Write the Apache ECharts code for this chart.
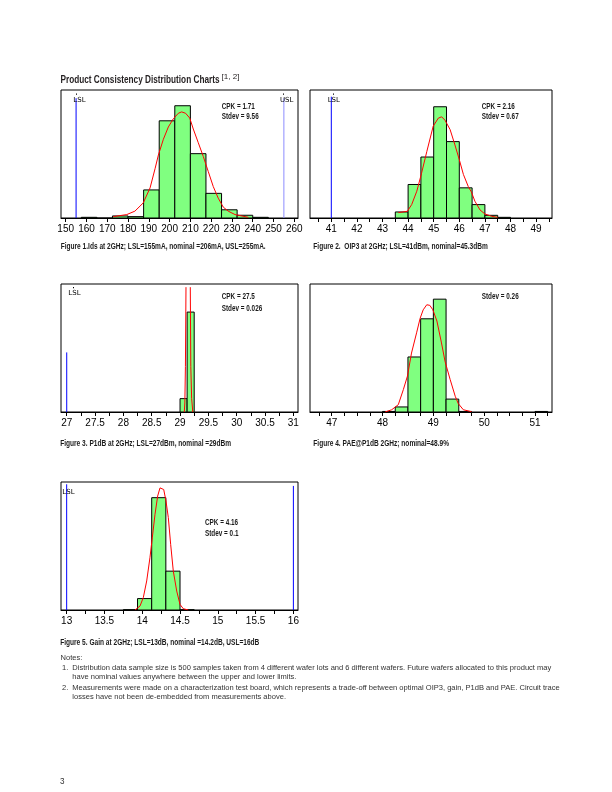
<!DOCTYPE html>
<html><head><meta charset="utf-8">
<script src="https://cdn.jsdelivr.net/npm/echarts@6/dist/echarts.min.js"></script>
<style>html,body{margin:0;padding:0;background:#fff}#c{width:612px;height:792px}</style>
</head><body><div id="c"></div><script>
// ---------- DATA ----------
// Figure 1: Ids (mA)
var idsBinStart = [157.5, 165, 172.5, 180, 187.5, 195, 202.5, 210, 217.5, 225, 232.5, 240];
var idsBinWidth = 7.5;
var idsCounts   = [1, 0, 3, 2, 41, 142, 164, 94, 36, 12, 4, 1];
var idsFitX = [172.9, 179.4, 183.3, 187.3, 190.6, 193.0, 194.6, 197.0, 199.4, 201.8, 204.2, 205.8, 207.7, 209.7, 211.4, 213.8, 216.2, 218.6, 221.0, 223.4, 225.8, 228.2, 231.5, 237.9];
var idsFitY = [2, 5, 10, 22, 44, 72, 92, 115, 133, 145, 153, 155, 153, 146, 130, 110, 90, 68, 46, 29, 16, 10, 5, 1];
var idsTicks = [150, 160, 170, 180, 190, 200, 210, 220, 230, 240, 250, 260];
var idsLabels = [150, 160, 170, 180, 190, 200, 210, 220, 230, 240, 250, 260];
var idsLSL = 155, idsUSL = 255;

// Figure 2: OIP3 (dBm)
var oipBinStart = [43.5, 44, 44.5, 45, 45.5, 46, 46.5, 47, 47.5];
var oipBinWidth = 0.5;
var oipCounts   = [9, 50, 91, 166, 114, 45, 20, 4, 1];
var oipFitX = [43.62, 43.97, 44.14, 44.34, 44.52, 44.73, 44.98, 45.18, 45.31, 45.44, 45.64, 45.83, 46.0, 46.16, 46.35, 46.47, 46.61, 46.81, 47.0, 47.27, 47.5];
var oipFitY = [8, 10, 20, 40, 66, 99, 137, 149, 151, 146, 132, 109, 87, 65, 47, 39, 25, 12, 6, 2.5, 1];
var oipTicks = [40.5, 41, 41.5, 42, 42.5, 43, 43.5, 44, 44.5, 45, 45.5, 46, 46.5, 47, 47.5, 48, 48.5, 49, 49.5];
var oipLabels = [41, 42, 43, 44, 45, 46, 47, 48, 49];
var oipLSL = 41;

// Figure 3: P1dB (dBm)
var p1BinStart = [29.0, 29.125];
var p1BinWidth = 0.125;
var p1Counts   = [59, 441];
var p1FitX = [29.075, 29.085, 29.095, 29.105, 29.143, 29.181, 29.19, 29.205, 29.225];
var p1FitY = [0, 40, 200, 551, '-', 551, 200, 60, 0];
var p1Ticks = [27, 27.25, 27.5, 27.75, 28, 28.25, 28.5, 28.75, 29, 29.25, 29.5, 29.75, 30, 30.25, 30.5, 30.75, 31];
var p1Labels = [27, 27.5, 28, 28.5, 29, 29.5, 30, 30.5, 31];
var p1LSL = 27;

// Figure 4: PAE@P1dB (%)
var paeBinStart = [48.0, 48.25, 48.5, 48.75, 49.0, 49.25, 49.5, 51.0];
var paeBinWidth = 0.25;
var paeCounts   = [1, 9, 98, 166, 201, 23, 1, 1];
var paeFitX = [48.05, 48.18, 48.31, 48.41, 48.49, 48.57, 48.67, 48.74, 48.80, 48.87, 48.93, 48.99, 49.07, 49.16, 49.23, 49.33, 49.43, 49.49, 49.59, 49.75];
var paeFitY = [0, 4, 13, 40, 64, 105, 141, 167, 182, 191, 190, 182, 162, 123, 90, 58, 28, 15, 4, 0.6];
var paeTicks = [46.75, 47, 47.25, 47.5, 47.75, 48, 48.25, 48.5, 48.75, 49, 49.25, 49.5, 49.75, 50, 50.25, 50.5, 50.75, 51, 51.25];
var paeLabels = [47, 48, 49, 50, 51];

// Figure 5: Gain (dB)
var gainBinStart = [13.75, 13.9375, 14.125, 14.3125, 14.5];
var gainBinWidth = 0.1875;
var gainCounts   = [1, 35, 344, 119, 1];
var gainFitX = [13.904, 13.970, 14.014, 14.059, 14.102, 14.133, 14.169, 14.204, 14.235, 14.257, 14.284, 14.314, 14.345, 14.376, 14.411, 14.456, 14.500, 14.543, 14.609];
var gainFitY = [0, 12, 38, 89, 160, 221, 293, 349, 374, 379, 369, 334, 283, 201, 119, 58, 17, 4, 0];
var gainTicks = [13, 13.25, 13.5, 13.75, 14, 14.25, 14.5, 14.75, 15, 15.25, 15.5, 15.75, 16];
var gainLabels = [13, 13.5, 14, 14.5, 15, 15.5, 16];
var gainLSL = 13, gainUSL = 16;

// ---------- LAYOUT ----------
var LABEL_FONT = '"Liberation Sans", Arial, sans-serif';
var COND_FONT = '"Liberation Sans Narrow", "Liberation Sans", sans-serif';

var charts = [
  {grid:{left:61, top:90, width:237, height:128}, min:147.74, max:261.79, ymax:187,
   start:idsBinStart, width:idsBinWidth, counts:idsCounts, fx:idsFitX, fy:idsFitY, ticks:idsTicks, labels:idsLabels,
   spec:[{x:idsLSL, h:175, color:'#0000ff'}, {x:idsUSL, h:175, color:'#8c8cff'}]},
  {grid:{left:310, top:90, width:242, height:128}, min:40.168, max:49.621, ymax:191,
   start:oipBinStart, width:oipBinWidth, counts:oipCounts, fx:oipFitX, fy:oipFitY, ticks:oipTicks, labels:oipLabels,
   spec:[{x:oipLSL, h:181, color:'#0000ff'}]},
  {grid:{left:61, top:284, width:237, height:128}, min:26.899, max:31.082, ymax:565,
   start:p1BinStart, width:p1BinWidth, counts:p1Counts, fx:p1FitX, fy:p1FitY, ticks:p1Ticks, labels:p1Labels,
   spec:[{x:p1LSL, h:263, color:'#0000ff'}]},
  {grid:{left:310, top:284, width:242, height:128}, min:46.573, max:51.334, ymax:228,
   start:paeBinStart, width:paeBinWidth, counts:paeCounts, fx:paeFitX, fy:paeFitY, ticks:paeTicks, labels:paeLabels,
   spec:[]},
  {grid:{left:61, top:482, width:237, height:128}, min:12.925, max:16.061, ymax:392,
   start:gainBinStart, width:gainBinWidth, counts:gainCounts, fx:gainFitX, fy:gainFitY, ticks:gainTicks, labels:gainLabels,
   spec:[{x:gainLSL, h:385, color:'#0000ff'}, {x:gainUSL, h:380, color:'#0000ff'}]}
];

var grids = [], xAxes = [], yAxes = [], series = [];
charts.forEach(function(c, i){
  grids.push({left:c.grid.left, top:c.grid.top, width:c.grid.width, height:c.grid.height,
    show:true, borderColor:'#000', borderWidth:1, backgroundColor:'transparent', containLabel:false});
  xAxes.push({type:'value', gridIndex:i, min:c.min, max:c.max,
    axisLine:{show:true, onZero:false, lineStyle:{color:'#000', width:1}},
    axisTick:{show:true, length:4, inside:false, customValues:c.ticks, lineStyle:{color:'#000', width:1}},
    axisLabel:{show:true, customValues:c.labels, margin:6, color:'#000', fontFamily:LABEL_FONT, fontSize:10,
      formatter:function(v){return String(v);}},
    splitLine:{show:false}});
  yAxes.push({type:'value', gridIndex:i, min:0, max:c.ymax, show:false, splitLine:{show:false}});
  var barData = c.start.map(function(s, k){ return [s, c.counts[k]]; });
  series.push({type:'custom', xAxisIndex:i, yAxisIndex:i, data:barData, clip:true, z:2,
    renderItem:(function(w){ return function(params, api){
      var x0 = api.value(0), v = api.value(1);
      var p0 = api.coord([x0, v]), p1 = api.coord([x0 + w, 0]);
      return {type:'rect', shape:{x:p0[0], y:p0[1], width:p1[0]-p0[0], height:Math.max(p1[1]-p0[1], 0.5)},
        style:{fill:'#80ff80', stroke:'#000', lineWidth:1}};
    };})(c.width)});
  series.push({type:'line', xAxisIndex:i, yAxisIndex:i, data:c.fx.map(function(x, k){ return [x, c.fy[k]]; }),
    showSymbol:false, symbol:'none', clip:true, z:4, connectNulls:false,
    lineStyle:{color:'#ff0000', width:1}, silent:true, animation:false});
  c.spec.forEach(function(s){
    series.push({type:'line', xAxisIndex:i, yAxisIndex:i, data:[[s.x, 0], [s.x, s.h]],
      showSymbol:false, symbol:'none', z:5, lineStyle:{color:s.color, width:1}, silent:true, animation:false});
  });
});

// ---------- TEXT ----------
var ctx = document.createElement('canvas').getContext('2d');
function widthOf(text, font){ ctx.font = font; return ctx.measureText(text).width; }

var capFont = 'bold 9px ' + COND_FONT;
var capScale = 205 / widthOf('Figure 1.Ids at 2GHz; LSL=155mA, nominal =206mA, USL=255mA.', capFont);
var titleFont = 'bold 11.5px ' + COND_FONT;
var titleScale = 159 / widthOf('Product Consistency Distribution Charts', titleFont);
var supFont = '8px ' + COND_FONT;
var supScale = 18 / widthOf('[1, 2]', supFont);
var statFont = 'bold 8.5px ' + COND_FONT;
var statScale = 37 / widthOf('Stdev = 9.56', statFont);
var noteFont = '7.5px "Liberation Sans", "Open Sans", sans-serif';
var noteScale = 479 / widthOf('Distribution data sample size is 500 samples taken from 4 different wafer lots and 6 different wafers. Future wafers allocated to this product may', noteFont);
var specFont = '7px "DejaVu Sans", Verdana, sans-serif';

function txt(text, x, y, font, scale, color){
  return {type:'text', x:x, y:y, scaleX:scale, silent:true, z:10,
    style:{text:text, font:font, fill:color || '#1a1a1a', align:'left', verticalAlign:'middle'}};
}
var graphics = [
  txt('Product Consistency Distribution Charts', 60.5, 79.5, titleFont, titleScale, '#231f20'),
  txt('[1, 2]', 221.5, 76.8, supFont, supScale, '#231f20'),
  txt('Figure 1.Ids at 2GHz; LSL=155mA, nominal =206mA, USL=255mA.', 60.7, 246.7, capFont, capScale),
  txt('Figure 2.  OIP3 at 2GHz; LSL=41dBm, nominal=45.3dBm', 313.3, 246.7, capFont, capScale),
  txt('Figure 3. P1dB at 2GHz; LSL=27dBm, nominal =29dBm', 60.2, 443.3, capFont, capScale),
  txt('Figure 4. PAE@P1dB 2GHz; nominal=48.9%', 313.3, 443.3, capFont, capScale),
  txt('Figure 5. Gain at 2GHz; LSL=13dB, nominal =14.2dB, USL=16dB', 60.2, 642.3, capFont, capScale),
  txt('CPK = 1.71', 221.7, 106.7, statFont, statScale),
  txt('Stdev = 9.56', 221.7, 116.7, statFont, statScale),
  txt('CPK = 2.16', 481.7, 106.7, statFont, statScale),
  txt('Stdev = 0.67', 481.7, 116.7, statFont, statScale),
  txt('CPK = 27.5', 221.7, 296.7, statFont, statScale),
  txt('Stdev = 0.026', 221.7, 308.3, statFont, statScale),
  txt('Stdev = 0.26', 481.7, 296.7, statFont, statScale),
  txt('CPK = 4.16', 205, 523, statFont, statScale),
  txt('Stdev = 0.1', 205, 534, statFont, statScale),
  txt('LSL', 73.3, 100, specFont, 1, '#000'),
  txt('USL', 280, 100, specFont, 1, '#000'),
  txt('LSL', 327.7, 100, specFont, 1, '#000'),
  txt('LSL', 68.3, 293.3, specFont, 1, '#000'),
  txt('LSL', 62.3, 492, specFont, 1, '#000'),
  {type:'rect', shape:{x:76, y:93.5, width:1, height:1.2}, style:{fill:'#000'}, silent:true},
  {type:'rect', shape:{x:283, y:93.5, width:1, height:1.2}, style:{fill:'#000'}, silent:true},
  {type:'rect', shape:{x:333, y:93.5, width:1, height:1.2}, style:{fill:'#000'}, silent:true},
  {type:'rect', shape:{x:73, y:287, width:1, height:1.2}, style:{fill:'#000'}, silent:true},
  txt('Notes:', 60.5, 658, noteFont, noteScale, '#333'),
  txt('1.', 62, 667.5, noteFont, noteScale, '#333'),
  txt('Distribution data sample size is 500 samples taken from 4 different wafer lots and 6 different wafers. Future wafers allocated to this product may', 72.3, 667.5, noteFont, noteScale, '#333'),
  txt('have nominal values anywhere between the upper and lower limits.', 72.3, 677, noteFont, noteScale, '#333'),
  txt('2.', 62, 687.5, noteFont, noteScale, '#333'),
  txt('Measurements were made on a characterization test board, which represents a trade-off between optimal OIP3, gain, P1dB and PAE. Circuit trace', 72.3, 687.5, noteFont, noteScale, '#333'),
  txt('losses have not been de-embedded from measurements above.', 72.3, 697, noteFont, noteScale, '#333'),
  txt('3', 60, 782, '9px "Liberation Sans", sans-serif', 0.9, '#333')
];

var chart = echarts.init(document.getElementById('c'), null, {renderer:'canvas'});
chart.setOption({
  animation:false, backgroundColor:'#fff',
  grid:grids, xAxis:xAxes, yAxis:yAxes, series:series, graphic:graphics
});
</script></body></html>
